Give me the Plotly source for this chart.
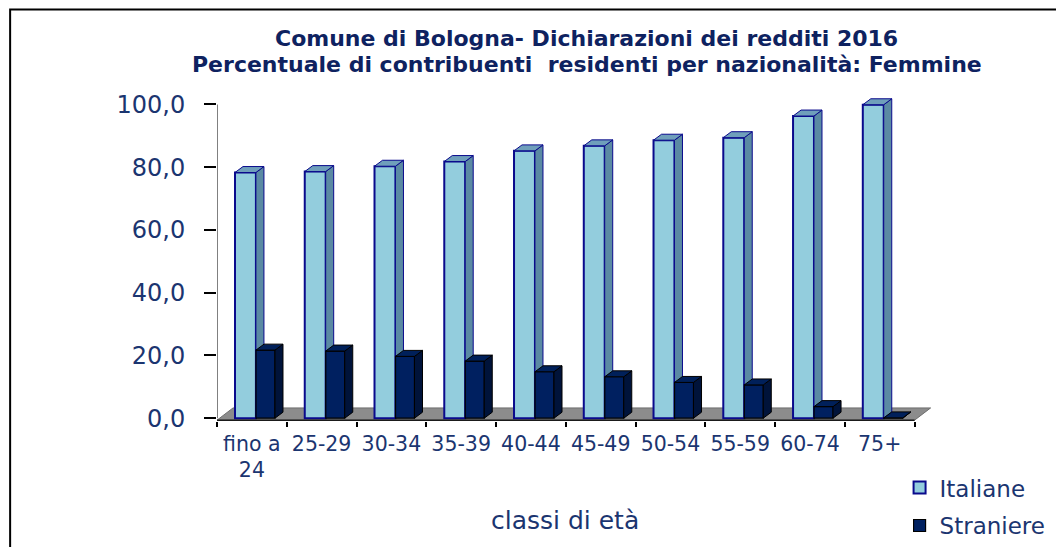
import plotly.graph_objects as go
import numpy as np

# ---- data ----
categories = ["fino a<br>24", "25-29", "30-34", "35-39", "40-44", "45-49",
              "50-54", "55-59", "60-74", "75+"]
italiane = [78.3, 78.6, 80.3, 81.8, 85.2, 86.8, 88.6, 89.4, 96.3, 99.9]
straniere = [21.7, 21.4, 19.7, 18.2, 14.8, 13.2, 11.4, 10.6, 3.7, 0.1]
series_names = ["Italiane", "Straniere"]
title_lines = ["Comune di Bologna- Dichiarazioni dei redditi 2016",
               "Percentuale di contribuenti  residenti per nazionalità: Femmine"]
x_title = "classi di età"
y_ticks = [0, 20, 40, 60, 80, 100]

# ---- layout geometry (screen pixels; page body has an 8px margin) ----
OFF = 8
W, H = 1064, 547
L = 217 - OFF
XR = [-0.5, 9.75]
PX_X = 69.8
plot_w = (XR[1] - XR[0]) * PX_X
R = W - L - plot_w
YR = [-0.9, 103]
PX_Y = 3.14
zero_px = 418 - OFF
T = zero_px - YR[1] * PX_Y
plot_h = (YR[1] - YR[0]) * PX_Y
B = H - T - plot_h
BOTTOM_PX = T + plot_h


def py(p):
    """screen pixel row -> paper y"""
    return (BOTTOM_PX - (p - OFF)) / plot_h


def pxx(p):
    """screen pixel column -> paper x"""
    return ((p - OFF) - L) / plot_w


DX = 0.115   # depth in category units
DY = 1.9     # depth in value units

TXT = "#1b3570"
TITLE_C = "#0e2260"
FONT = "DejaVu Sans, Verdana, sans-serif"

idx = np.arange(len(categories))

specs = [
    dict(vals=italiane, name=series_names[0], off=-0.242, w=0.30,
         front="#93cddd", side="#5b8aa3", top="#6f9fbb", edge="#0a0a8c", ew=2),
    dict(vals=straniere, name=series_names[1], off=0.059, w=0.272,
         front="#002060", side="#00133a", top="#00205a", edge="#000000", ew=1.2),
]


def side_top_polys(vals, off, w):
    sx, sy, tx, ty = [], [], [], []
    for i, v in zip(idx, vals):
        xl = i + off
        xr = xl + w
        sx += [xr, xr + DX, xr + DX, xr, xr, None]
        sy += [0, DY, v + DY, v, 0, None]
        tx += [xl, xl + DX, xr + DX, xr, xl, None]
        ty += [v, v + DY, v + DY, v, v, None]
    return sx, sy, tx, ty


fig = go.Figure()

axes_pairs = [("x", "x2"), ("x3", "x4")]
for k, (s, (bx, px)) in enumerate(zip(specs, axes_pairs)):
    xb = categories if k == 0 else idx
    fig.add_trace(go.Bar(
        x=xb, y=s["vals"], name=s["name"], xaxis=bx, yaxis="y",
        offset=s["off"], width=s["w"],
        marker=dict(color=s["front"], line=dict(color=s["edge"], width=s["ew"])),
        legendgroup=s["name"], showlegend=True, hoverinfo="skip",
    ))
    sx, sy, tx, ty = side_top_polys(s["vals"], s["off"], s["w"])
    fig.add_trace(go.Scatter(
        x=sx, y=sy, xaxis=px, yaxis="y", mode="lines", fill="toself",
        fillcolor=s["side"], line=dict(color=s["edge"], width=1),
        showlegend=False, hoverinfo="skip",
    ))
    fig.add_trace(go.Scatter(
        x=tx, y=ty, xaxis=px, yaxis="y", mode="lines", fill="toself",
        fillcolor=s["top"], line=dict(color=s["edge"], width=1),
        showlegend=False, hoverinfo="skip",
    ))

hidden = dict(range=XR, visible=False, overlaying="x", anchor="y", fixedrange=True)

annotations = [
    dict(text="<b>" + title_lines[0] + "</b>", xref="paper", yref="paper",
         x=pxx(587), y=py(38), xanchor="center", yanchor="middle", showarrow=False,
         font=dict(size=22, color=TITLE_C, family=FONT)),
    dict(text="<b>" + title_lines[1] + "</b>", xref="paper", yref="paper",
         x=pxx(587), y=py(64), xanchor="center", yanchor="middle", showarrow=False,
         font=dict(size=22, color=TITLE_C, family=FONT)),
    dict(text=x_title, xref="paper", yref="paper",
         x=pxx(565), y=py(520), xanchor="center", yanchor="middle", showarrow=False,
         font=dict(size=25, color=TXT)),
]

fig.update_layout(
    width=W, height=H,
    margin=dict(l=L, r=R, t=T, b=B, pad=0, autoexpand=False),
    paper_bgcolor="white", plot_bgcolor="white",
    separators=",.",
    barmode="overlay",
    font=dict(family=FONT, color=TXT),
    xaxis=dict(
        type="category", categoryorder="array", categoryarray=categories,
        range=XR, tickson="boundaries", ticks="outside", ticklen=5,
        tickcolor="#000000", tickwidth=1.5, showline=False, showgrid=False,
        zeroline=False, tickfont=dict(size=20.5, color=TXT), automargin=False,
        tickangle=0, ticklabelstandoff=8,
    ),
    xaxis2=dict(hidden),
    xaxis3=dict(hidden),
    xaxis4=dict(hidden),
    yaxis=dict(
        range=YR, tickvals=y_ticks, tickformat=".1f", ticks="outside",
        ticklen=12, tickwidth=2, tickcolor="#000000", showgrid=False,
        zeroline=False, showline=False, tickfont=dict(size=24, color=TXT),
        ticklabelstandoff=14, automargin=False,
    ),
    legend=dict(
        x=pxx(900), xanchor="left",
        y=py(466), yanchor="top",
        font=dict(size=23, color=TXT), bgcolor="rgba(0,0,0,0)",
        tracegroupgap=5, itemwidth=30, traceorder="grouped",
    ),
    annotations=annotations,
)

floor_front = -0.64
floor_back = floor_front + 2 * DY + 0.1
fig.add_shape(type="path", xref="x", yref="y", layer="below",
              path=f"M -0.5 {floor_front} L 9.5 {floor_front} L {9.5 + 2 * DX} {floor_back} "
                   f"L {-0.5 + 2 * DX} {floor_back} Z",
              fillcolor="#8c8c8c", line=dict(color="#6e6e6e", width=1))
fig.add_shape(type="line", xref="x", yref="y", x0=-0.5, x1=-0.5, y0=0, y1=100,
              layer="below", line=dict(color="#808080", width=2))
fig.add_shape(type="line", xref="x", yref="y", x0=-0.5, x1=9.5,
              y0=floor_front, y1=floor_front, line=dict(color="#1a1a1a", width=1.5))

# outer frame of the chart area (extends past right / bottom edges)
fig.add_shape(type="rect", xref="paper", yref="paper",
              x0=pxx(10), x1=pxx(W + 40), y0=py(H + 40), y1=py(9),
              line=dict(color="#000000", width=2), layer="below")

fig.write_html("out.html")
